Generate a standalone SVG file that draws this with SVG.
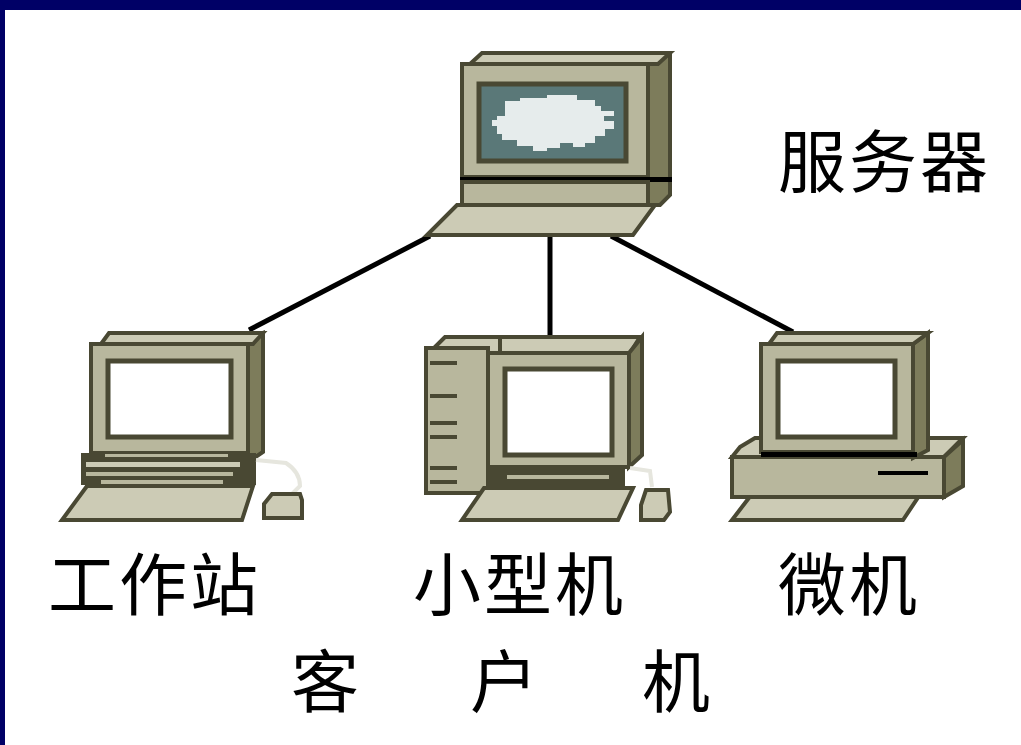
<svg xmlns="http://www.w3.org/2000/svg" width="1021" height="745" viewBox="0 0 1021 745">
  <style>
    .dk { fill: #494833; }
    .lt { fill: #cccbb5; stroke: #494833; stroke-width: 4; stroke-linejoin: miter; }
    .md { fill: #b8b79d; stroke: #494833; stroke-width: 4; }
    .sd { fill: #7d7c5b; stroke: #494833; stroke-width: 4; }
    .scr { fill: #ffffff; stroke: #494833; stroke-width: 5; }
    .slot { stroke: #494833; stroke-width: 4; }
    .cable { fill: none; stroke: #e6e6de; stroke-width: 4; }
    .link { stroke: #000000; stroke-width: 5; fill: none; }
    .lbl { font-family: "Noto Sans CJK SC", "Noto Sans CJK JP", sans-serif; font-size: 68px; letter-spacing: 3px; fill: #000000; }
  </style>

  <!-- page background and frame -->
  <rect x="0" y="0" width="1021" height="745" fill="#ffffff"/>
  <rect x="0" y="0" width="1021" height="10" fill="#000066"/>
  <rect x="0" y="0" width="5" height="745" fill="#000066"/>

  <!-- network links -->
  <g id="connectors">
    <line class="link" x1="430" y1="236" x2="249" y2="330"/>
    <line class="link" x1="550" y1="236" x2="550" y2="336"/>
    <line class="link" x1="611" y1="236" x2="793" y2="332"/>
  </g>

  <!-- server -->
  <g id="server">
    <polygon class="sd" points="648,64 660,54 670,54 670,195 660,205 648,205"/>
    <polygon class="lt" points="470,64 482,53 670,53 658,64"/>
    <rect class="md" x="462" y="64" width="186" height="113"/>
    <rect x="479" y="84" width="147" height="77" fill="#5a7878" stroke="#494833" stroke-width="5"/>
    <path d="M505,101 L520,101 L520,98 L547,98 L547,95 L577,95 L577,100 L595,100 L595,106 L601,106 L601,111 L614,111 L614,116 L604,116 L604,121 L614,121 L614,129 L605,129 L605,136 L595,136 L595,143 L585,143 L585,147 L573,147 L573,143 L560,143 L560,148 L547,148 L547,151 L533,151 L533,146 L517,146 L517,140 L502,140 L502,134 L497,134 L497,126 L492,126 L492,120 L497,120 L497,116 L505,116 Z" fill="#e6ecec"/>
    <rect x="460" y="177" width="212" height="5" fill="#000000"/>
    <rect class="md" x="462" y="182" width="186" height="23"/>
    <polygon class="lt" points="457,205 655,205 633,235 427,235"/>
  </g>

  <!-- workstation -->
  <g id="workstation">
    <polygon class="sd" points="248,344 255,336 263,333 263,452 248,462"/>
    <polygon class="lt" points="101,344 109,333 263,333 253,344"/>
    <rect class="md" x="91" y="344" width="157" height="109"/>
    <rect class="scr" x="108" y="361" width="123" height="76"/>
    <rect class="dk" x="81" y="453" width="175" height="32"/>
    <rect x="105" y="454" width="123" height="3" fill="#b8b79d"/>
    <rect x="86" y="462" width="154" height="5" fill="#cccbb5"/>
    <rect x="86" y="472" width="147" height="4" fill="#b8b79d"/>
    <rect x="101" y="480" width="122" height="4" fill="#b8b79d"/>
    <polygon class="lt" points="87,486 253,486 242,520 62,520"/>
    <path class="cable" d="M256,460 L286,463 Q300,472 300,486 L292,494"/>
    <polygon class="lt" points="272,494 300,494 302,500 302,518 264,518 264,504"/>
  </g>

  <!-- minicomputer -->
  <g id="minicomputer">
    <polygon class="lt" points="434,348 445,337 640,337 630,353 488,353 488,348"/>
    <line class="slot" x1="500" y1="337" x2="500" y2="353"/>
    <polygon class="sd" points="629,353 642,337 642,455 629,467"/>
    <rect class="md" x="426" y="348" width="62" height="145"/>
    <line class="slot" x1="430" y1="363" x2="457" y2="363"/>
    <line class="slot" x1="430" y1="396" x2="457" y2="396"/>
    <line class="slot" x1="430" y1="423" x2="457" y2="423"/>
    <line class="slot" x1="430" y1="437" x2="457" y2="437"/>
    <line class="slot" x1="430" y1="468" x2="457" y2="468"/>
    <line class="slot" x1="430" y1="482" x2="457" y2="482"/>
    <rect class="md" x="488" y="353" width="141" height="114"/>
    <rect class="scr" x="505" y="369" width="107" height="86"/>
    <rect class="dk" x="488" y="467" width="137" height="21"/>
    <rect x="507" y="475" width="102" height="4" fill="#b8b79d"/>
    <polygon class="lt" points="484,488 633,488 618,520 462,520"/>
    <path class="cable" d="M630,468 L650,471 L652,487"/>
    <polygon class="lt" points="646,490 668,490 670,512 664,520 641,520 641,505"/>
  </g>

  <!-- microcomputer -->
  <g id="microcomputer">
    <polygon class="lt" points="755,490 923,490 903,520 732,520"/>
    <polygon class="lt" points="740,447 755,438 963,438 944,457 732,457"/>
    <polygon class="sd" points="944,457 963,440 963,486 944,497"/>
    <rect class="md" x="732" y="457" width="212" height="40"/>
    <rect x="878" y="471" width="50" height="4" fill="#000000"/>
    <polygon class="sd" points="913,344 928,333 928,450 913,458"/>
    <polygon class="lt" points="769,344 777,333 928,333 913,344"/>
    <rect class="md" x="761" y="344" width="152" height="108"/>
    <rect x="761" y="452" width="156" height="5" fill="#000000"/>
    <rect class="scr" x="778" y="361" width="117" height="76"/>
  </g>

  <!-- captions -->
  <g id="labels">
    <text class="lbl" x="778" y="187">服务器</text>
    <text class="lbl" x="48" y="610">工作站</text>
    <text class="lbl" x="413" y="610">小型机</text>
    <text class="lbl" x="778" y="610">微机</text>
    <text class="lbl" x="291" y="707">客</text>
    <text class="lbl" x="470" y="707">户</text>
    <text class="lbl" x="642" y="707">机</text>
  </g>
</svg>
